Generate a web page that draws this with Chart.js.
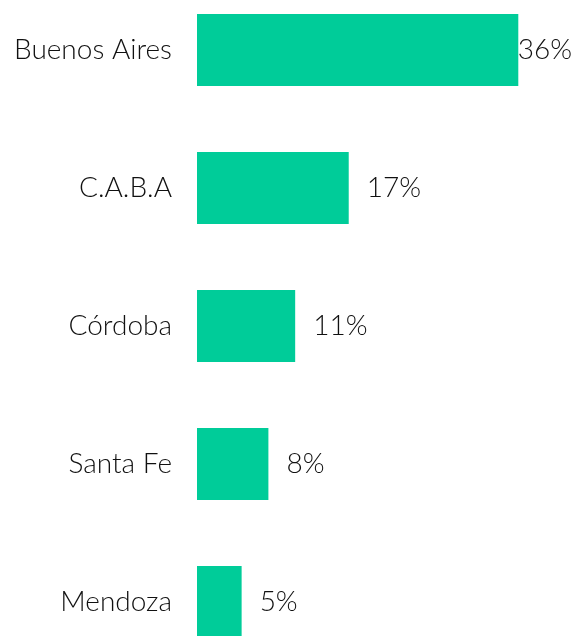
<!DOCTYPE html>
<html>
<head>
<meta charset="utf-8">
<script src="https://cdn.jsdelivr.net/npm/chart.js@4"></script>
<style>
  html, body { margin: 0; padding: 0; background: #fff; overflow: hidden; }
  #grafico { position: absolute; left: 0; top: -19px; }
</style>
</head>
<body>
<canvas id="grafico" width="574" height="690"></canvas>
<script>
// Datos del gráfico
const provincias = ['Buenos Aires', 'C.A.B.A', 'Córdoba', 'Santa Fe', 'Mendoza'];
const porcentajes = [36, 17, 11, 8, 5];

const FUENTE = "Lato, 'Open Sans', sans-serif";

// Etiquetas de valor al final de cada barra
const etiquetasValor = {
    id: 'etiquetasValor',
    afterDatasetsDraw(chart) {
        const ctx = chart.ctx;
        const meta = chart.getDatasetMeta(0);
        ctx.save();
        ctx.font = '300 28px ' + FUENTE;
        ctx.fillStyle = '#111';
        ctx.textBaseline = 'middle';
        ctx.textAlign = 'left';
        meta.data.forEach((bar, i) => {
            const texto = porcentajes[i] + '%';
            const ancho = ctx.measureText(texto).width;
            let x = bar.x + 18;
            if (x + ancho > chart.width - 2) x = chart.width - 2 - ancho;
            ctx.fillText(texto, x, bar.y);
        });
        ctx.restore();
    }
};

new Chart(document.getElementById('grafico'), {
    type: 'bar',
    data: {
        labels: provincias,
        datasets: [{
            data: porcentajes,
            backgroundColor: '#00cc99',
            borderWidth: 0,
            categoryPercentage: 1,
            barPercentage: 0.52
        }]
    },
    options: {
        indexAxis: 'y',
        responsive: false,
        animation: false,
        layout: { padding: { left: 0, right: 20, top: 0, bottom: 0 } },
        plugins: {
            legend: { display: false },
            tooltip: { enabled: false }
        },
        scales: {
            x: {
                display: false,
                min: 0,
                max: 40
            },
            y: {
                grid: { display: false, drawTicks: false },
                border: { display: false },
                ticks: {
                    color: '#111',
                    padding: 25,
                    font: { family: FUENTE, size: 28, weight: 300 }
                },
                afterFit(scale) {
                    scale.width = 197;
                    scale.paddingTop = 0;
                    scale.paddingBottom = 0;
                }
            }
        }
    },
    plugins: [etiquetasValor]
});
</script>
</body>
</html>
